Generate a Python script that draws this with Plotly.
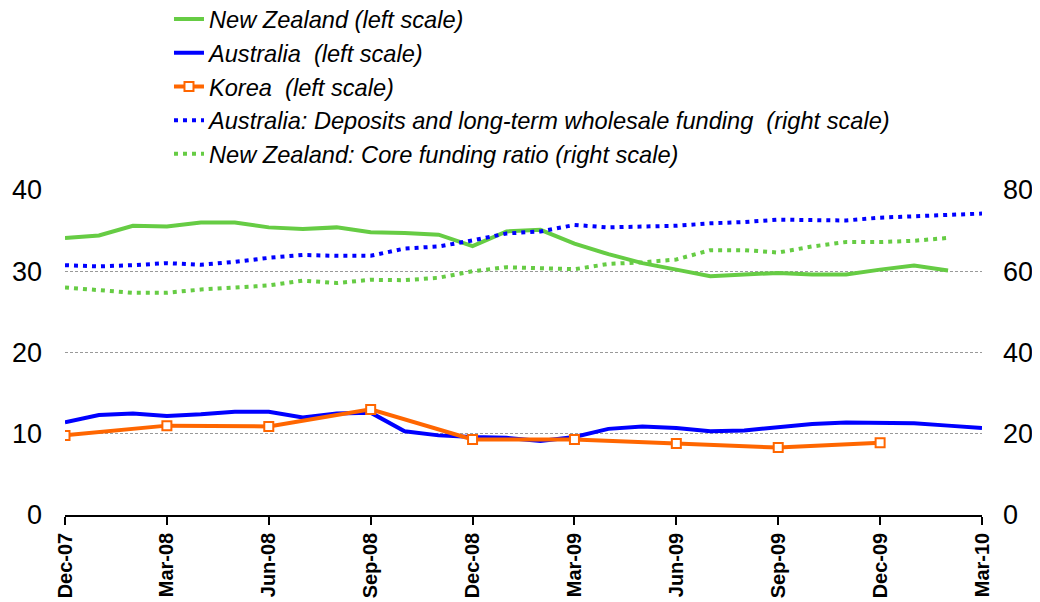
import plotly.graph_objects as go

months = ["Dec-07", "Jan-08", "Feb-08", "Mar-08", "Apr-08", "May-08", "Jun-08", "Jul-08",
          "Aug-08", "Sep-08", "Oct-08", "Nov-08", "Dec-08", "Jan-09", "Feb-09", "Mar-09",
          "Apr-09", "May-09", "Jun-09", "Jul-09", "Aug-09", "Sep-09", "Oct-09", "Nov-09",
          "Dec-09", "Jan-10", "Feb-10", "Mar-10"]
quarters = months[::3]
korea_quarters = quarters[:9]

nz_left = [34.1, 34.4, 35.6, 35.5, 36.0, 36.0, 35.4, 35.2, 35.4, 34.8, 34.7, 34.5, 33.1,
           34.9, 35.1, 33.4, 32.1, 31.0, 30.2, 29.4, 29.6, 29.8, 29.6, 29.6, 30.2,
           30.7, 30.1]
aus_left = [11.4, 12.3, 12.5, 12.2, 12.4, 12.7, 12.7, 12.0, 12.5, 12.6, 10.3, 9.8, 9.6,
            9.5, 9.1, 9.6, 10.6, 10.9, 10.7, 10.3, 10.4, 10.8, 11.2, 11.4, 11.4,
            11.3, 11.0, 10.7]
korea_left = [9.8, 11.0, 10.9, 13.0, 9.3, 9.3, 8.8, 8.3, 8.9]
aus_right = [61.5, 61.2, 61.5, 62.0, 61.6, 62.3, 63.3, 64.0, 63.8, 63.8, 65.6, 66.1, 67.6,
             69.3, 69.8, 71.4, 70.8, 70.9, 71.2, 71.8, 72.1, 72.7, 72.7, 72.5, 73.2,
             73.5, 74.0, 74.2]
nz_right = [56.0, 55.3, 54.7, 54.7, 55.5, 56.0, 56.5, 57.7, 57.1, 57.9, 57.8, 58.4, 60.0,
            61.0, 60.7, 60.5, 61.8, 62.2, 62.9, 65.2, 65.2, 64.6, 66.1, 67.2, 67.2,
            67.5, 68.2]

GREEN = "#66CC44"
BLUE = "#0000FF"
ORANGE = "#FF6600"

fig = go.Figure()
fig.add_trace(go.Scatter(x=months[:len(nz_left)], y=nz_left, mode="lines",
                         name="New Zealand (left scale)",
                         line=dict(color=GREEN, width=4)))
fig.add_trace(go.Scatter(x=months[:len(aus_left)], y=aus_left, mode="lines",
                         name="Australia  (left scale)",
                         line=dict(color=BLUE, width=4)))
fig.add_trace(go.Scatter(x=korea_quarters, y=korea_left, mode="lines+markers",
                         name="Korea  (left scale)",
                         line=dict(color=ORANGE, width=4),
                         marker=dict(symbol="square", size=9, color="white",
                                     line=dict(color=ORANGE, width=2))))
fig.add_trace(go.Scatter(x=months[:len(aus_right)], y=aus_right, mode="lines",
                         name="Australia: Deposits and long-term wholesale funding  (right scale)",
                         line=dict(color=BLUE, width=4, dash="4px,5px"), yaxis="y2"))
fig.add_trace(go.Scatter(x=months[:len(nz_right)], y=nz_right, mode="lines",
                         name="New Zealand: Core funding ratio (right scale)",
                         line=dict(color=GREEN, width=4, dash="4px,5px"), yaxis="y2"))

fig.update_layout(
    width=1032, height=594,
    margin=dict(l=57, r=58, t=182, b=87, autoexpand=False),
    paper_bgcolor="white", plot_bgcolor="white",
    font=dict(family="Liberation Sans, Arial, sans-serif", color="black"),
    showlegend=True,
    legend=dict(x=0.1134, y=1.593, xanchor="left", yanchor="top",
                font=dict(size=23.6, family="Liberation Sans, Arial, sans-serif",
                          style="italic"),
                bgcolor="rgba(0,0,0,0)", tracegroupgap=0),
    xaxis=dict(type="category", categoryorder="array", categoryarray=months,
               range=[0, len(months) - 1],
               tickmode="array", tickvals=quarters, ticktext=quarters,
               tickangle=-90, ticks="outside", ticklen=8, tickwidth=1.5, tickcolor="black",
               showline=True, linecolor="black", linewidth=1.5,
               showgrid=False, zeroline=False,
               tickfont=dict(size=20, family="Liberation Sans, Arial, sans-serif",
                             weight="bold")),
    yaxis=dict(range=[0, 40], tickvals=[0, 10, 20, 30, 40], showline=False,
               showgrid=True, gridcolor="#999999", gridwidth=1, griddash="3px,2px",
               zeroline=False, ticks="", ticklabelstandoff=22,
               tickfont=dict(size=27)),
    yaxis2=dict(range=[0, 80], tickvals=[0, 20, 40, 60, 80], overlaying="y", side="right",
                showline=False, showgrid=False, zeroline=False, ticks="",
                ticklabelstandoff=20, tickfont=dict(size=27)),
)

fig.write_html("out.html")
